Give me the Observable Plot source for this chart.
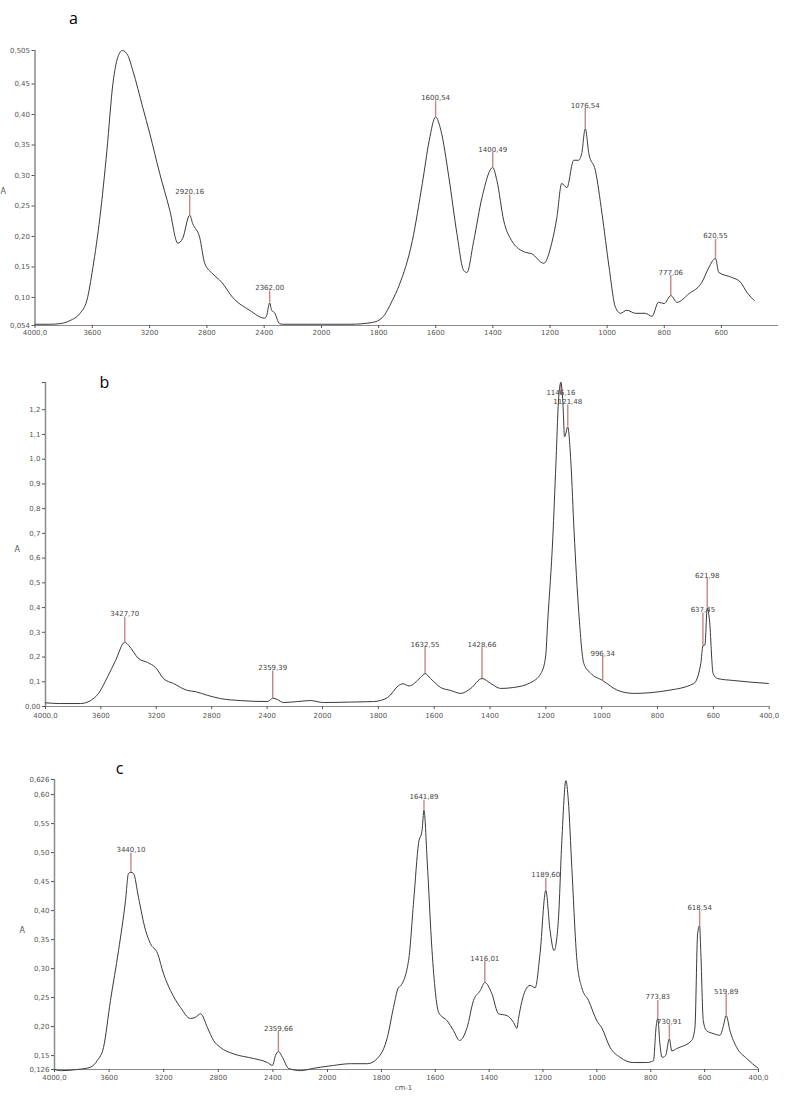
<!DOCTYPE html>
<html><head><meta charset="utf-8">
<script src="https://cdn.jsdelivr.net/npm/d3@7"></script>
<script src="https://cdn.jsdelivr.net/npm/@observablehq/plot@0.6"></script>
<style>
body{margin:0;background:#fff;width:800px;height:1104px;overflow:hidden}
#chart svg{display:block}
</style></head><body><div id="chart"></div>
<script>
// ---------- DATA ----------
// Panel a
const wnA = [4000,3900,3826,3756,3686,3638,3596,3547,3498,3456,3422,3390,3352,3317,3247,3199,3129,3059,3003,2969,2920.16,2899,2850,2815,2760,2697,2620,2502,2397,2383,2362,2348,2328,2293,2272,2100,2000,1900,1822,1787,1752,1728,1682,1647,1623,1600.54,1582,1554,1526,1502,1491,1467,1438,1400.49,1386,1362,1334,1286,1265,1222,1194,1176,1159,1141,1117,1100,1089,1076.54,1064,1041,1018,993,971,953,932,900,866,843,820,800,777.06,755,714,668,644,620.55,609,564,533,510,485];
const absA = [0.056,0.056,0.057,0.062,0.074,0.095,0.149,0.231,0.341,0.451,0.494,0.505,0.497,0.472,0.411,0.369,0.303,0.243,0.189,0.197,0.235,0.221,0.198,0.156,0.139,0.125,0.100,0.079,0.066,0.070,0.091,0.079,0.075,0.057,0.056,0.056,0.056,0.056,0.059,0.067,0.095,0.120,0.193,0.287,0.357,0.396,0.374,0.297,0.205,0.144,0.141,0.193,0.264,0.313,0.292,0.226,0.193,0.174,0.172,0.156,0.189,0.231,0.287,0.280,0.325,0.325,0.336,0.377,0.336,0.308,0.238,0.149,0.084,0.074,0.079,0.074,0.074,0.069,0.092,0.090,0.103,0.092,0.106,0.125,0.149,0.164,0.141,0.133,0.125,0.108,0.095];
const peakWnA = [2920.16,2362.00,1600.54,1400.49,1076.54,777.06,620.55];
const peakAbsA = [0.235,0.091,0.396,0.313,0.377,0.103,0.164];
const peakLabA = ["2920,16","2362,00","1600,54","1400,49","1076,54","777,06","620,55"];
const yTicksA = [0.054,0.10,0.15,0.20,0.25,0.30,0.35,0.40,0.45,0.505];
const yTickLabA = ["0,054","0,10","0,15","0,20","0,25","0,30","0,35","0,40","0,45","0,505"];
const xTicksA = [4000,3600,3200,2800,2400,2000,1800,1600,1400,1200,1000,800,600];
const xTickLabA = ["4000,0","3600","3200","2800","2400","2000","1800","1600","1400","1200","1000","800","600"];

// Panel b
const wnB = [4000,3900,3747,3675,3617,3552,3494,3427.70,3400,3328,3264,3206,3148,3076,2975,2917,2830,2736,2592,2397,2375,2359.39,2325,2282,2180,2087,1997,1900,1817,1767,1727,1712,1690,1649,1632.55,1613,1577,1541,1505,1469,1428.66,1397,1362,1315,1254,1218,1201,1193,1175,1164,1154,1146.16,1139,1133,1121.48,1110,1099,1082,1064,1039,996.34,942,885,763,670,645,637.45,630,621.98,614,601,585,527,403];
const absB = [0.015,0.012,0.012,0.024,0.053,0.12,0.186,0.26,0.247,0.194,0.178,0.158,0.113,0.093,0.065,0.06,0.045,0.032,0.024,0.02,0.028,0.034,0.028,0.016,0.02,0.024,0.016,0.018,0.02,0.036,0.085,0.092,0.083,0.117,0.133,0.113,0.077,0.065,0.053,0.073,0.113,0.093,0.073,0.077,0.097,0.133,0.2,0.35,0.684,0.98,1.25,1.31,1.23,1.09,1.13,0.98,0.71,0.38,0.174,0.134,0.105,0.065,0.053,0.065,0.093,0.174,0.245,0.25,0.40,0.35,0.134,0.113,0.105,0.093];
const peakWnB = [3427.70,2359.39,1632.55,1428.66,1146.16,1121.48,996.34,637.45,621.98];
const peakAbsB = [0.26,0.034,0.133,0.113,1.31,1.13,0.105,0.245,0.40];
const peakLabB = ["3427,70","2359,39","1632,55","1428,66","1146,16","1121,48","996,34","637,45","621,98"];
const yTicksB = [0,0.1,0.2,0.3,0.4,0.5,0.6,0.7,0.8,0.9,1.0,1.1,1.2,1.31];
const yTickLabB = ["0,00","0,1","0,2","0,3","0,4","0,5","0,6","0,7","0,8","0,9","1,0","1,1","1,2",""];
const xTicksB = [4000,3600,3200,2800,2400,2000,1800,1600,1400,1200,1000,800,600,400];
const xTickLabB = ["4000,0","3600","3200","2800","2400","2000","1800","1600","1400","1200","1000","800","600","400,0"];

// Panel c
const wnC = [4000,3956,3832,3736,3685,3641,3590,3531,3480,3458,3440.10,3421,3385,3333,3297,3245,3201,3150,3077,3004,2967,2930,2879,2835,2784,2689,2542,2440,2403,2381,2359.66,2330,2286,2198,2103,2051,1978,1915,1852,1815,1778,1755,1737,1729,1699,1680,1662,1649,1641.89,1630,1612,1587,1556,1532,1510,1482,1458,1433,1416.01,1390,1365,1334,1309,1297,1291,1266,1248,1229,1211,1189.60,1174,1159,1143,1130,1115,1106,1093,1074,1056,1031,1000,982,951,914,865,815,790,780,773.83,766,758,745,730.91,722,704,648,636,626,618.54,614,605,593,568,543,531,519.89,506,481,444,401];
const absC = [0.126,0.124,0.126,0.13,0.142,0.164,0.245,0.331,0.417,0.464,0.466,0.464,0.423,0.366,0.343,0.326,0.291,0.262,0.233,0.214,0.216,0.222,0.198,0.176,0.164,0.153,0.145,0.138,0.133,0.15,0.157,0.147,0.128,0.124,0.128,0.13,0.133,0.136,0.136,0.145,0.181,0.233,0.267,0.27,0.314,0.417,0.516,0.538,0.573,0.486,0.331,0.224,0.21,0.193,0.176,0.198,0.245,0.262,0.276,0.257,0.222,0.219,0.207,0.197,0.214,0.262,0.271,0.267,0.326,0.435,0.366,0.331,0.383,0.521,0.624,0.59,0.474,0.314,0.267,0.245,0.21,0.198,0.164,0.147,0.138,0.138,0.141,0.2,0.214,0.17,0.147,0.15,0.179,0.158,0.162,0.176,0.198,0.36,0.374,0.326,0.21,0.193,0.188,0.185,0.2,0.219,0.193,0.164,0.145,0.128];
const peakWnC = [3440.10,2359.66,1641.89,1416.01,1189.60,773.83,730.91,618.54,519.89];
const peakAbsC = [0.466,0.157,0.573,0.276,0.435,0.214,0.179,0.374,0.219];
const peakLabC = ["3440,10","2359,66","1641,89","1416,01","1189,60","773,83","730,91","618,54","519,89"];
const yTicksC = [0.126,0.15,0.20,0.25,0.30,0.35,0.40,0.45,0.50,0.55,0.60,0.626];
const yTickLabC = ["0,126","0,15","0,20","0,25","0,30","0,35","0,40","0,45","0,50","0,55","0,60","0,626"];
const xTicksC = xTicksB;
const xTickLabC = xTickLabB;

// ---------- LAYOUT ----------
const panels = [
  {letter:"a", wn:wnA, ab:absA, pw:peakWnA, pa:peakAbsA, pl:peakLabA, stems:[20,12,16,15,20,20,19],
   yTicks:yTicksA, yLab:yTickLabA, xTicks:xTicksA, xLab:xTickLabA, yDomain:[0.054,0.505],
   height:345, mt:50, mb:20, ml:34.5, mr:22, x2000:321, xPad:2,
   letterDx:38.5, letterDy:-38, aDx:-34.5, aDy:3, cm:false},
  {letter:"b", wn:wnB, ab:absB, pw:peakWnB, pa:peakAbsB, pl:peakLabB, stems:[25,27,26,31,-13,22,24,33,29],
   yTicks:yTicksB, yLab:yTickLabB, xTicks:xTicksB, xLab:xTickLabB, yDomain:[0,1.31],
   height:380, mt:37, mb:19, ml:45, mr:31.3, x2000:322, xPad:4,
   letterDx:59, letterDy:-6, aDx:-31, aDy:5, cm:false},
  {letter:"c", wn:wnC, ab:absC, pw:peakWnC, pa:peakAbsC, pl:peakLabC, stems:[19,20,10,21,12,18,14,15,21],
   yTicks:yTicksC, yLab:yTickLabC, xTicks:xTicksC, xLab:xTickLabC, yDomain:[0.126,0.626],
   height:379, mt:54, mb:35, ml:54, mr:42, x2000:327, xPad:3,
   letterDx:65, letterDy:-17, aDx:-35, aDy:6, cm:true}
];

const W = 800;
const root = document.getElementById("chart");
for (const p of panels) {
  const series = p.wn.map((w,i)=>({w, v:p.ab[i]}));
  const yBottom = p.height - p.mb, yTop = p.mt;
  const ppu = (yBottom - yTop) / (p.yDomain[1]-p.yDomain[0]);
  const peaks = p.pw.map((w,i)=>({w, v:p.pa[i], label:p.pl[i], stem:p.stems[i]}));
  const yLabMap = new Map(p.yTicks.map((t,i)=>[t,p.yLab[i]]));
  const xLabMap = new Map(p.xTicks.map((t,i)=>[t,p.xLab[i]]));
  const marks = [
    Plot.ruleY([p.yDomain[0]], {stroke:"#8a8a8a", strokeWidth:1}),
    Plot.ruleX([4000], {stroke:"#8a8a8a", strokeWidth:1.5}),
    Plot.axisY(p.yTicks, {tickSize:3, tickPadding:2, fontSize:7, color:"#555", tickFormat:d=>yLabMap.get(d), label:null}),
    Plot.axisX(p.xTicks, {tickSize:3, tickPadding:p.xPad, fontSize:7, color:"#555", tickFormat:d=>xLabMap.get(d), label:null}),
    Plot.ruleX(peaks, {x:"w", y1:"v", y2:d=>d.v + d.stem/ppu, stroke:"#c98585", strokeWidth:1.4}),
    Plot.line(series, {x:"w", y:"v", stroke:"#3a3a3a", strokeWidth:1, curve:"monotone-x"}),
    Plot.text(peaks, {x:"w", y:d=>d.v + (d.stem+1)/ppu, text:"label", lineAnchor:"bottom", fontSize:7, fill:"#444"}),
    Plot.text([p.letter], {frameAnchor:"top-left", dx:p.letterDx, dy:p.letterDy, fontSize:16, fontFamily:"Open Sans", fill:"#000", textAnchor:"middle"}),
    Plot.text(["A"], {frameAnchor:"left", dx:p.aDx, dy:p.aDy, fontSize:8, fill:"#555"})
  ];
  if (p.cm) marks.push(Plot.text(["cm-1"], {frameAnchor:"bottom", dx:-3, dy:20, fontSize:7, fill:"#555"}));
  const svg = Plot.plot({
    width: W, height: p.height,
    marginTop: p.mt, marginBottom: p.mb, marginLeft: p.ml, marginRight: p.mr,
    style: {fontFamily:"DejaVu Sans", fontSize:"7px", background:"#fff"},
    x: {type:"linear", domain:[4000,2000,400], range:[p.ml, p.x2000, W - p.mr]},
    y: {type:"linear", domain:p.yDomain, range:[yBottom, yTop]},
    marks
  });
  root.appendChild(svg);
}
</script></body></html>
